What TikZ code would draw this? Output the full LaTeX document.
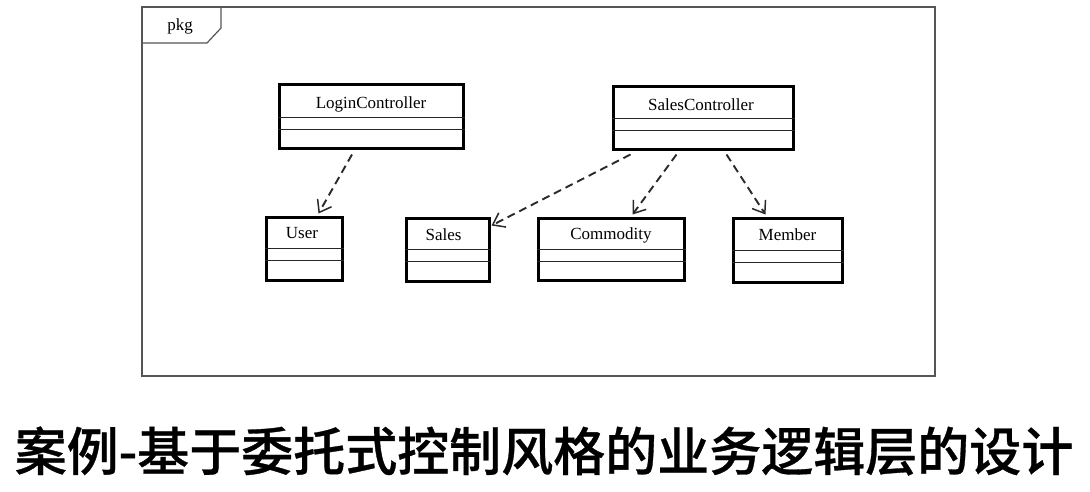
\documentclass[tikz,border=0pt]{standalone}
\usepackage{fontspec}
\setmainfont{Liberation Serif}
\newfontfamily\cjk{Noto Sans CJK SC Medium}[FakeBold=0.6]
\usetikzlibrary{calc,arrows.meta}
\definecolor{framec}{HTML}{555555}
\definecolor{linec}{HTML}{2a2a2a}
\tikzset{
  cls/.style={draw=black, line width=3pt, rectangle, inner sep=0pt, fill=white},
  clstext/.style={font=\fontsize{17}{19}\selectfont, text=black, inner sep=0pt},
  divline/.style={draw=black!85, line width=1.4pt},
  dep/.style={draw=linec, line width=1.9pt, dash pattern=on 8pt off 5pt,
    -{Straight Barb[length=11pt,width=16pt,line width=1.5pt]}},
  framestyle/.style={draw=framec, line width=1.2pt},
}
\begin{document}
\begin{tikzpicture}[x=1pt,y=-1pt]
\useasboundingbox (0,0) rectangle (1090,491);
\fill[white] (0,0) rectangle (1090,491);
% package frame
\draw[framestyle] (142,7) rectangle (935,376);
\draw[framestyle] (142,43) -- (207,43) -- (221,28) -- (221,7);
\node[font=\fontsize{17}{19}\selectfont, inner sep=0pt] (pkg) at (180,26) {pkg};
% classes
\node[cls, minimum width=184pt, minimum height=64pt] (login) at (371,116) {};
\node[cls, minimum width=180pt, minimum height=63pt] (salesc) at (703,117.5) {};
\node[cls, minimum width=76pt, minimum height=63pt] (user) at (304,248.5) {};
\node[cls, minimum width=83pt, minimum height=63pt] (sales) at (447.5,249.5) {};
\node[cls, minimum width=146pt, minimum height=62pt] (commodity) at (611,249) {};
\node[cls, minimum width=109pt, minimum height=64pt] (member) at (787.5,250) {};
\node[clstext] (tlogin) at ($(login.north)+(0,22)$) {LoginController};
\node[clstext] (tsalesc) at ($(salesc.north)+(-2,20)$) {SalesController};
\node[clstext] (tuser) at ($(user.north)+(-2,18)$) {User};
\node[clstext] (tsales) at ($(sales.north)+(-4,18)$) {Sales};
\node[clstext] (tcomm) at ($(commodity.north)+(0,19)$) {Commodity};
\node[clstext] (tmember) at ($(member.north)+(0,18)$) {Member};
\foreach \n/\a/\b in {login/35/47, salesc/34/46, user/33/45, sales/33/45, commodity/33/45, member/34/46}{
  \draw[divline] ($(\n.north west)+(0,\a)$) -- ($(\n.north east)+(0,\a)$);
  \draw[divline] ($(\n.north west)+(0,\b)$) -- ($(\n.north east)+(0,\b)$);
}
% dependencies
\draw[dep] ($(login.south)+(-19,5)$) -- ($(user.north west)+(54,-2)$);
\draw[dep] ($(salesc.south west)+(19,4)$) -- ($(sales.north east)+(1,9)$);
\draw[dep] ($(salesc.south west)+(65,4)$) -- ($(commodity.north west)+(96,-2)$);
\draw[dep] ($(salesc.south west)+(115,4)$) -- ($(member.north west)+(34,-2)$);
% title
\node[font=\cjk\fontsize{52}{60}\selectfont, inner sep=0pt] (title) at (544,451) {案例-基于委托式控制风格的业务逻辑层的设计};
\end{tikzpicture}
\end{document}
